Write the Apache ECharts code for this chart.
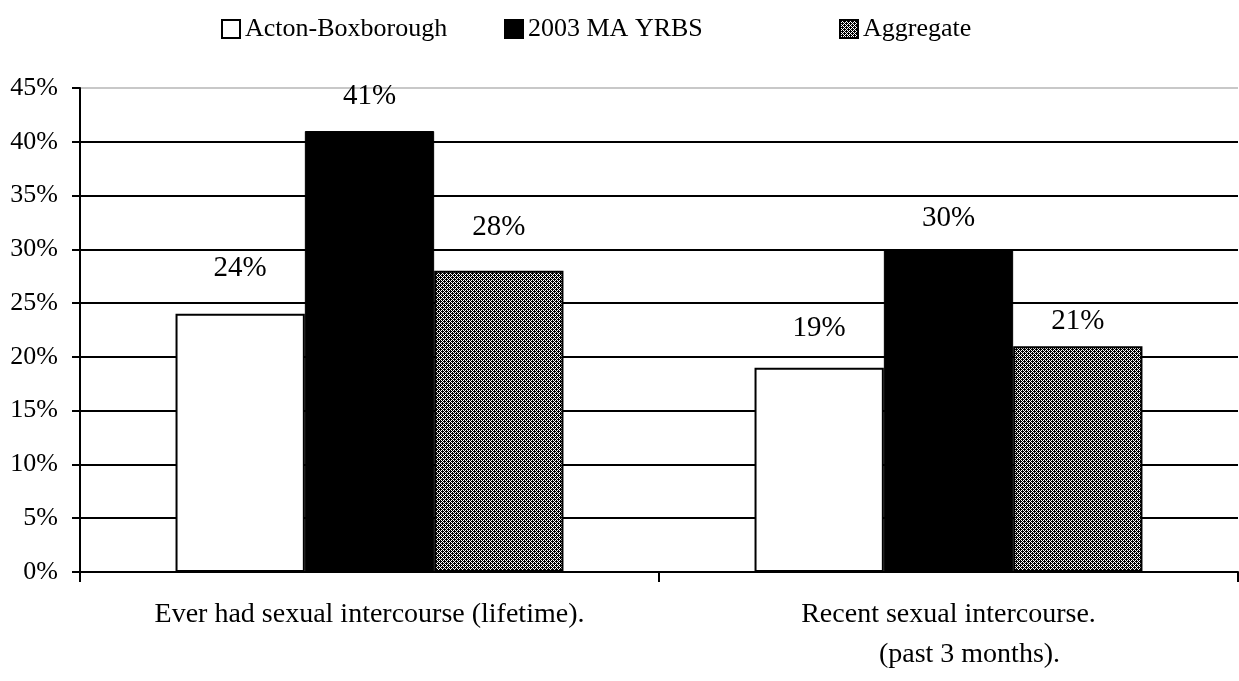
<!DOCTYPE html>
<html lang="en">
<head>
    <meta charset="UTF-8">
    <title>Sexual intercourse</title>
    <script src="https://cdn.jsdelivr.net/npm/echarts@6/dist/echarts.min.js"></script>
    <style>
        html, body { margin: 0; padding: 0; background: #fff; }
        #main { width: 1239px; height: 681px; }
    </style>
</head>
<body>
<div id="main"></div>
<script>
    // data
    const categories = ['Ever had sexual intercourse (lifetime).', 'Recent sexual intercourse.\n      (past 3 months).'];
    const seriesNames = ['Acton-Boxborough', '2003 MA YRBS', 'Aggregate'];
    const actonValues = [24, 19];
    const yrbsValues = [41, 30];
    const aggregateValues = [28, 21];
    const yTicks = [0, 5, 10, 15, 20, 25, 30, 35, 40, 45];

    // label gaps above each bar (the original places them unevenly)
    const labelGaps = [[31, 25], [20, 16], [29, 10]];

    const font = '"Liberation Serif", "Times New Roman", serif';

    // hatched fill for the Aggregate series
    function makeHatch() {
        let c = document.createElement('canvas');
        c.width = 4;
        c.height = 4;
        let ctx = c.getContext('2d');
        ctx.fillStyle = '#fff';
        ctx.fillRect(0, 0, 4, 4);
        ctx.fillStyle = '#000';
        for (let x = 0; x < 4; x++) {
            for (let y = 0; y < 4; y++) {
                let d = (x + y) % 4;
                if (d === 0 || d === 2 || (d === 1 && x % 2 === 0)) ctx.fillRect(x, y, 1, 1);
            }
        }
        return c;
    }
    const hatch = {image: makeHatch(), repeat: 'repeat'};

    function withGaps(values, gaps) {
        return values.map(function (v, i) {
            return {value: v, label: {distance: gaps[i]}};
        });
    }

    let myChart = echarts.init(document.getElementById('main'));

    let lineColors = yTicks.map(function (t, i) {
        return i === yTicks.length - 1 ? '#c8c8c8' : '#000';
    });

    let barLabel = {
        show: true,
        position: 'top',
        formatter: '{c}%',
        color: '#000',
        fontFamily: font,
        fontSize: 29
    };

    let legendBase = {
        top: 11,
        icon: 'rect',
        itemWidth: 18,
        itemHeight: 18,
        textStyle: {fontFamily: font, fontSize: 26, color: '#000'}
    };

    option = {
        animation: false,
        legend: [
            Object.assign({left: 216, data: [seriesNames[0]]}, legendBase),
            Object.assign({left: 499, data: [seriesNames[1]]}, legendBase),
            Object.assign({left: 834, data: [seriesNames[2]]}, legendBase)
        ],
        grid: {left: 80, right: 1, top: 88, bottom: 109, containLabel: false},
        xAxis: {
            type: 'category',
            data: categories,
            axisLine: {lineStyle: {color: '#000', width: 2}},
            axisTick: {show: true, length: 10, lineStyle: {color: '#000', width: 2}},
            axisLabel: {
                margin: 23,
                fontFamily: font,
                fontSize: 28,
                color: '#000',
                lineHeight: 40
            }
        },
        yAxis: {
            type: 'value',
            min: 0,
            max: 45,
            interval: 5,
            axisLine: {show: true, lineStyle: {color: '#000', width: 2}},
            axisTick: {show: true, length: 8, lineStyle: {color: '#000', width: 2}},
            axisLabel: {
                formatter: '{value}%',
                margin: 22,
                fontFamily: font,
                fontSize: 26,
                color: '#000'
            },
            splitLine: {show: true, lineStyle: {color: lineColors, width: 2}}
        },
        series: [
            {
                name: seriesNames[0],
                type: 'bar',
                barGap: '0%',
                barCategoryGap: '33%',
                data: withGaps(actonValues, labelGaps[0]),
                itemStyle: {color: '#fff', borderColor: '#000', borderWidth: 2},
                label: barLabel
            },
            {
                name: seriesNames[1],
                type: 'bar',
                data: withGaps(yrbsValues, labelGaps[1]),
                itemStyle: {color: '#000', borderColor: '#000', borderWidth: 1},
                label: barLabel
            },
            {
                name: seriesNames[2],
                type: 'bar',
                data: withGaps(aggregateValues, labelGaps[2]),
                itemStyle: {color: hatch, borderColor: '#000', borderWidth: 2},
                label: barLabel
            }
        ]
    };
    myChart.setOption(option);
</script>
</body>
</html>
